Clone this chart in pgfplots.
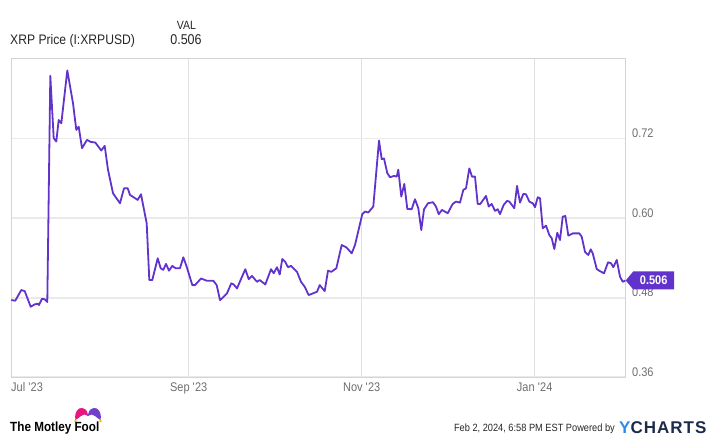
\documentclass[border=0pt]{standalone}
\usepackage{pgfplots}
\pgfplotsset{compat=1.18}
\usepackage{fontspec}
\setmainfont{Liberation Sans}[FakeStretch=0.88]
\newfontfamily\ycfont{Liberation Sans}[LetterSpace=6]
\definecolor{xrp}{HTML}{6133CC}
\definecolor{gridh}{HTML}{EAEAEA}
\definecolor{gridv}{HTML}{E0E0E0}
\definecolor{framec}{HTML}{D4D4D4}
\definecolor{tickc}{HTML}{6E6E6E}
\definecolor{headc}{HTML}{262626}
\definecolor{foolpink}{HTML}{E8177F}
\definecolor{foolpurple}{HTML}{7040C8}
\definecolor{foolyellow}{HTML}{F5B800}
\definecolor{ycblue}{HTML}{2D8CEB}
\definecolor{ycnavy}{HTML}{1C2B4A}

\begin{document}
\begin{tikzpicture}[x=1pt,y=1pt]
\begin{axis}[
  name=ax,
  scale only axis, width=614.7pt, height=318.3pt,
  xmin=-0.66, xmax=216.09, ymin=0.36, ymax=0.84,
  xtick={62,123,184},
  xticklabels={Sep \textquotesingle23, Nov \textquotesingle23, Jan \textquotesingle24},
  extra x ticks={-0.66},
  extra x tick labels={Jul \textquotesingle23},
  extra x tick style={grid=none, xticklabel style={anchor=base west}},
  ytick={0.36,0.48,0.60,0.72},
  yticklabels={0.36,0.48,0.60,0.72},
  yticklabel pos=right,
  major tick length=0pt,
  grid=major,
  x grid style={draw=gridv, line width=1pt},
  y grid style={draw=gridh, line width=1.6pt},
  axis line style={draw=framec, line width=1pt},
  xticklabel style={anchor=base, inner sep=0pt, yshift=-14pt,
    font=\fontsize{12.5}{14}\selectfont, text=tickc},
  yticklabel style={anchor=base west, inner sep=0pt, xshift=6.3pt, yshift=1pt,
    font=\fontsize{12.5}{14}\selectfont, text=tickc},
]
\addplot[xrp, line width=1.8pt, line join=round] coordinates {
(-0.55,0.4765) (0.86,0.4755) (2.97,0.4916) (4.17,0.490) (6.29,0.4664) (7.70,0.470)
(8.86,0.471) (9.21,0.469) (10.27,0.4785) (11.22,0.4776) (12.14,0.4735) (13.20,0.8146)
(14.40,0.7206) (15.31,0.7155) (16.16,0.748) (17.08,0.743) (19.19,0.8227) (21.20,0.7734)
(22.37,0.733) (23.21,0.738) (24.38,0.7055) (26.14,0.718) (27.44,0.715) (29.07,0.714)
(31.18,0.702) (32.38,0.709) (33.54,0.673) (35.31,0.6376) (36.36,0.631) (37.77,0.6225)
(39.19,0.645) (40.49,0.645) (41.30,0.635) (44.02,0.6275) (45.18,0.636) (47.19,0.592)
(48.11,0.5067) (49.16,0.5067) (51.07,0.5395) (52.13,0.5244) (53.04,0.522) (54.00,0.531)
(55.05,0.5208) (56.22,0.528) (57.41,0.5244) (58.93,0.5244) (60.10,0.541) (61.29,0.5268)
(63.27,0.499) (64.22,0.499) (66.34,0.509) (68.35,0.5057) (70.67,0.5057) (71.87,0.499)
(73.04,0.4765) (73.74,0.479) (75.50,0.4866) (77.02,0.5017) (77.87,0.500) (79.03,0.494)
(80.80,0.5117) (81.96,0.523) (83.16,0.508) (84.32,0.5128) (86.08,0.504) (87.04,0.5067)
(89.01,0.500) (91.02,0.523) (91.97,0.517) (93.13,0.526) (94.09,0.515) (95.00,0.5384)
(96.06,0.534) (97.01,0.526) (98.07,0.528) (100.19,0.519) (101.60,0.504) (102.90,0.4966)
(104.31,0.484) (107.24,0.489) (108.19,0.499) (109.95,0.490) (111.12,0.5208) (112.28,0.519)
(114.05,0.5244) (115.95,0.5595) (117.58,0.556) (119.48,0.547) (120.64,0.5595) (123.21,0.606)
(124.17,0.610) (125.33,0.6085) (127.09,0.6175) (129.10,0.717) (130.05,0.689) (130.86,0.690)
(132.03,0.6678) (132.98,0.6617) (134.39,0.6637) (135.34,0.6626) (135.91,0.673) (136.96,0.6325)
(138.02,0.6516) (139.08,0.614) (140.63,0.6134) (141.79,0.6285) (142.96,0.615) (144.01,0.582)
(144.97,0.6134) (146.38,0.6225) (148.14,0.624) (149.20,0.6175) (150.15,0.606) (151.31,0.6124)
(153.33,0.6074) (155.09,0.6214) (156.25,0.625) (157.66,0.6234) (158.83,0.6426) (159.78,0.645)
(160.94,0.675) (161.89,0.6626) (162.95,0.6626) (163.90,0.6214) (164.82,0.6214) (166.83,0.6335)
(167.78,0.6175) (168.84,0.6214) (170.00,0.611) (170.96,0.6134) (171.77,0.606) (173.07,0.620)
(174.24,0.626) (175.05,0.625) (176.81,0.615) (177.77,0.6486) (178.82,0.6234) (179.99,0.6366)
(180.94,0.636) (182.10,0.625) (183.30,0.6225) (184.12,0.6165) (185.07,0.6315) (185.88,0.630)
(186.83,0.5847) (188.00,0.5887) (189.15,0.5746) (190.00,0.5697) (190.92,0.5535) (191.97,0.578)
(192.92,0.567) (193.88,0.6022) (194.80,0.6033) (195.86,0.5736) (197.41,0.577) (199.74,0.577)
(200.58,0.572) (201.75,0.549) (202.91,0.5444) (203.76,0.553) (204.46,0.547) (205.87,0.5233)
(207.04,0.520) (208.45,0.5168) (209.86,0.5334) (210.92,0.532) (211.73,0.526) (212.93,0.537)
(214.09,0.5117) (215.04,0.504) (215.96,0.506)
};
\coordinate (tip) at (axis cs:216.09,0.506);
\end{axis}

% last value tag
\fill[xrp] (tip) -- ++(7.5,9) -- ++(41,0) -- ++(0,-18) -- ++(-41,0) -- cycle;
\node[anchor=center, inner sep=0pt, text=white, font=\bfseries\fontsize{12.5}{14}\selectfont]
  at ([xshift=28pt]tip) {0.506};

% page frame and texts, in pixel coordinates measured from the top left
\begin{scope}[shift={(ax.south west)}, shift={(-11,377.3)}, yscale=-1]
\pgfresetboundingbox
\path[use as bounding box] (0,0) rectangle (720,441);
% header
\node[anchor=base west, inner sep=0pt, text=headc, font=\fontsize{13.8}{16}\selectfont]
  at (10,45) {XRP Price (I:XRPUSD)};
\node[anchor=base, inner sep=0pt, text=headc, font=\fontsize{12}{14}\selectfont]
  at (186.5,29.5) {VAL};
\node[anchor=base, inner sep=0pt, text=headc, font=\fontsize{14.2}{16}\selectfont]
  at (186,45) {0.506};

% footer: Motley Fool
\fill[foolpink] (75.5,420) .. controls (74,412) and (78,407.5) .. (82,408)
  .. controls (86,408.5) and (88,412) .. (88,416)
  .. controls (86,414) and (83,414) .. (81,416)
  .. controls (79,418) and (77,419) .. cycle;
\fill[foolpurple] (100.5,420) .. controls (102,412) and (98,407.5) .. (94,408)
  .. controls (90,408.5) and (88,412) .. (88,416)
  .. controls (90,414) and (93,414) .. (95,416)
  .. controls (97,418) and (99,419) .. cycle;
\fill[foolyellow] (75.5,421) circle (1.4) (100.5,421) circle (1.4);
\node[anchor=base west, inner sep=0pt, text=black, font=\bfseries\fontsize{13.3}{15}\selectfont]
  at (10,432) {The Motley Fool};

% footer: YCharts
\node[anchor=base east, inner sep=0pt, text=headc, font=\fontsize{10.5}{12}\selectfont]
  at (615,432) {Feb 2, 2024, 6:58 PM EST Powered by};
\node[anchor=base west, inner sep=0pt, font=\ycfont\bfseries\fontsize{17}{19}\selectfont]
  at (619,434) {\textcolor{ycblue}{Y}\textcolor{ycnavy}{CHARTS}};
\end{scope}
\end{tikzpicture}
\end{document}
